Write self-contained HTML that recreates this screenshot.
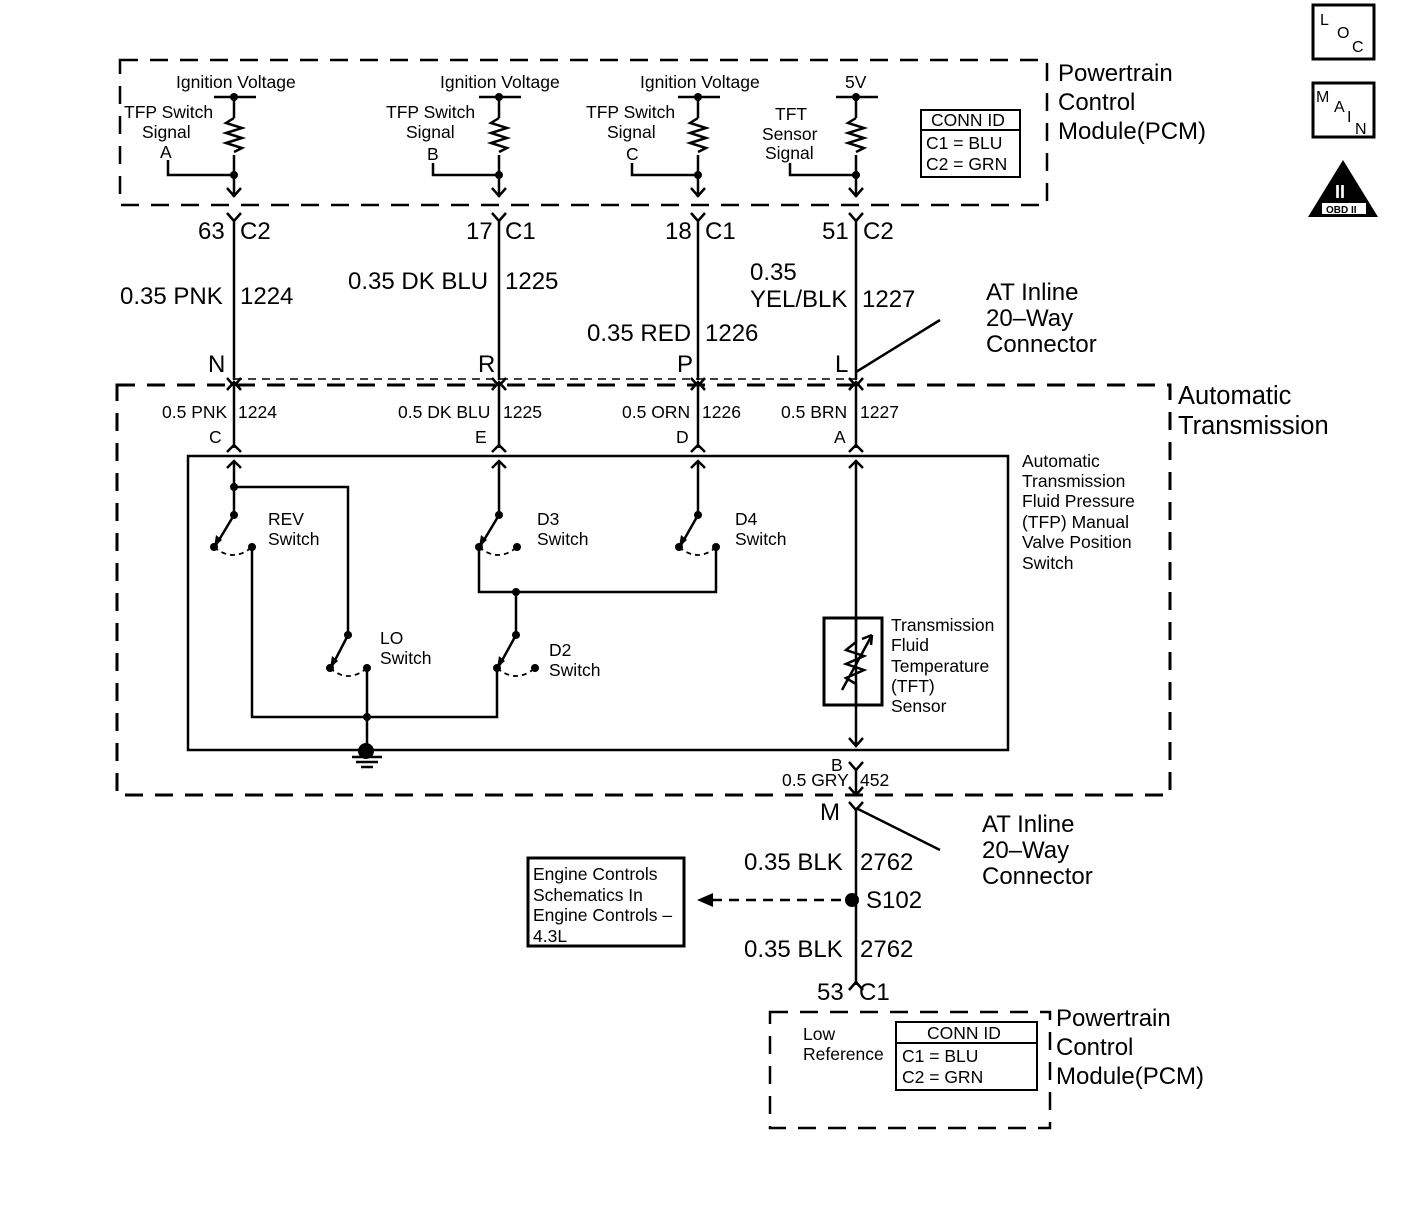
<!DOCTYPE html>
<html><head><meta charset="utf-8"><style>
body{margin:0;background:#fff}
svg{display:block}
text{font-family:"Liberation Sans",Arial,sans-serif;fill:#000}
.s{font-size:17.5px}
.m{font-size:24px}
.l{font-size:25.5px}
</style></head><body>
<svg width="1408" height="1208" viewBox="0 0 1408 1208" xmlns="http://www.w3.org/2000/svg">
<g fill="none" stroke="#000" stroke-width="2.5">
<rect x="120" y="60" width="927" height="145" stroke-dasharray="18,12"/>
<rect x="117" y="385" width="1053" height="410" stroke-width="3" stroke-dasharray="18,12"/>
<line x1="234" y1="379" x2="856" y2="379" stroke-width="1.5" stroke-dasharray="8,6"/>
<rect x="188" y="456" width="820" height="294"/>
<rect x="770" y="1012" width="280" height="116" stroke-dasharray="18,12"/>
<path d="M234 97V118M234 155V197M168 160V175H234M214 97H256"/>
<path d="M499 97V118M499 155V197M433 163V175H499M479 97H521"/>
<path d="M698 97V118M698 155V197M632 163V175H698M678 97H720"/>
<path d="M856 97V118M856 155V197M790 163V175H856M836 97H878"/>
<path d="M234 118l-8 5 16 5-16 5 16 5-16 5 16 5-8 4"/>
<path d="M499 118l-8 5 16 5-16 5 16 5-16 5 16 5-8 4"/>
<path d="M698 118l-8 5 16 5-16 5 16 5-16 5 16 5-8 4"/>
<path d="M856 118l-8 5 16 5-16 5 16 5-16 5 16 5-8 4"/>
<path d="M227 188l7 8 7-8M492 188l7 8 7-8M691 188l7 8 7-8M849 188l7 8 7-8"/>
<path d="M227 213l7 8 7-8M492 213l7 8 7-8M691 213l7 8 7-8M849 213l7 8 7-8"/>
<path d="M234 221V380M499 221V380M698 221V380M856 221V380"/>
<path d="M227 390l7-8 7 8M492 390l7-8 7 8M691 390l7-8 7 8M849 390l7-8 7 8"/>
<path d="M227 378l7 8 7-8M492 378l7 8 7-8M691 378l7 8 7-8M849 378l7 8 7-8"/>
<path d="M234 384V448M499 384V448M698 384V448M856 384V448"/>
<path d="M227 452l7-7 7 7M492 452l7-7 7 7M691 452l7-7 7 7M849 452l7-7 7 7"/>
<path d="M227 468l7-7 7 7M492 468l7-7 7 7M691 468l7-7 7 7M849 468l7-7 7 7"/>
<path d="M856 372L940 320M856 808L940 850"/>
<path d="M234 461V515M234 487H348V635M234 515L216 545M252 547V717H497V668M348 635L332 666M367 668V750M499 461V515L481 545M479 547V592H716V547M698 461V515L681 545M516 592V635L499 666"/>
<path d="M856 461V745M849 738l7 8 7-8"/>
<path d="M214 547Q233 563 252 547M330 668Q348 684 367 668M479 547Q498 563 517 547M679 547Q698 563 716 547M497 668Q516 684 535 668" stroke-dasharray="5,4" stroke-width="1.8"/>
<rect x="824" y="618" width="58" height="87" stroke-width="3"/>
<path d="M856 618V642l-10 8 18 6-18 8 18 6-18 8 10 6V705M842 690L872 635M872 635l-10 4M872 635l-1 10"/>
<path d="M352 757H382M356 762H378M361 767H373"/>
<path d="M849 762l7 8 7-8M856 770V795M849 787l7 8 7-8M849 802l7 8 7-8M856 810V985M849 990l7-8 7 8"/>
<path d="M712 900H852" stroke-dasharray="10,7"/>
<rect x="528" y="858" width="156" height="88" stroke-width="3"/>
<rect x="921" y="110" width="99" height="67" stroke-width="2"/><line x1="921" y1="130" x2="1020" y2="130" stroke-width="2"/>
<rect x="896" y="1022" width="141" height="68" stroke-width="2"/><line x1="896" y1="1043" x2="1037" y2="1043" stroke-width="2"/>
<rect x="1313" y="5" width="61" height="54" stroke-width="3"/>
<rect x="1313" y="83" width="61" height="54" stroke-width="3"/>
</g>
<g fill="#000">
<circle cx="234" cy="97" r="4"/><circle cx="499" cy="97" r="4"/><circle cx="698" cy="97" r="4"/><circle cx="856" cy="97" r="4"/>
<circle cx="234" cy="175" r="4"/><circle cx="499" cy="175" r="4"/><circle cx="698" cy="175" r="4"/><circle cx="856" cy="175" r="4"/>
<circle cx="234" cy="487" r="4"/><circle cx="234" cy="515" r="4"/><circle cx="214" cy="547" r="4"/><circle cx="252" cy="547" r="4"/>
<circle cx="348" cy="635" r="4"/><circle cx="330" cy="668" r="4"/><circle cx="367" cy="668" r="4"/><circle cx="367" cy="717" r="4"/>
<circle cx="499" cy="515" r="4"/><circle cx="479" cy="547" r="4"/><circle cx="517" cy="547" r="4"/>
<circle cx="698" cy="515" r="4"/><circle cx="679" cy="547" r="4"/><circle cx="716" cy="547" r="4"/>
<circle cx="516" cy="592" r="4"/><circle cx="516" cy="635" r="4"/><circle cx="497" cy="668" r="4"/><circle cx="535" cy="668" r="4"/>
<circle cx="366" cy="751" r="8"/><circle cx="852" cy="900" r="7"/>
<path d="M697 900l16-7v14z"/>
<path d="M214 547l2-12 6 5z M330 668l2-12 6 5z M479 547l2-12 6 5z M679 547l2-12 6 5z M497 668l2-12 6 5z"/>
<path d="M1343 160L1378 217H1308z"/>
</g>
<g class="s">
<text x="176" y="88">Ignition Voltage</text><text x="440" y="88">Ignition Voltage</text><text x="640" y="88">Ignition Voltage</text><text x="845" y="88">5V</text>
<text x="124" y="118">TFP Switch</text><text x="142" y="138">Signal</text><text x="160" y="158">A</text>
<text x="386" y="118">TFP Switch</text><text x="406" y="138">Signal</text><text x="427" y="160">B</text>
<text x="586" y="118">TFP Switch</text><text x="607" y="138">Signal</text><text x="626" y="160">C</text>
<text x="775" y="120">TFT</text><text x="762" y="140">Sensor</text><text x="765" y="159">Signal</text>
<text x="931" y="126">CONN ID</text><text x="926" y="149">C1 = BLU</text><text x="926" y="170">C2 = GRN</text>
<text x="162" y="418">0.5 PNK</text><text x="238" y="418">1224</text>
<text x="398" y="418">0.5 DK BLU</text><text x="503" y="418">1225</text>
<text x="622" y="418">0.5 ORN</text><text x="702" y="418">1226</text>
<text x="781" y="418">0.5 BRN</text><text x="860" y="418">1227</text>
<text x="209" y="443">C</text><text x="475" y="443">E</text><text x="676" y="443">D</text><text x="834" y="443">A</text>
<text x="1022" y="467">Automatic</text><text x="1022" y="487">Transmission</text><text x="1022" y="507">Fluid Pressure</text><text x="1022" y="528">(TFP) Manual</text><text x="1022" y="548">Valve Position</text><text x="1022" y="569">Switch</text>
<text x="268" y="525">REV</text><text x="268" y="545">Switch</text>
<text x="537" y="525">D3</text><text x="537" y="545">Switch</text>
<text x="735" y="525">D4</text><text x="735" y="545">Switch</text>
<text x="380" y="644">LO</text><text x="380" y="664">Switch</text>
<text x="549" y="656">D2</text><text x="549" y="676">Switch</text>
<text x="891" y="631">Transmission</text><text x="891" y="651">Fluid</text><text x="891" y="672">Temperature</text><text x="891" y="692">(TFT)</text><text x="891" y="712">Sensor</text>
<text x="831" y="771">B</text><text x="782" y="786">0.5 GRY</text><text x="860" y="786">452</text>
<text x="533" y="880">Engine Controls</text><text x="533" y="901">Schematics In</text><text x="533" y="921">Engine Controls –</text><text x="533" y="942">4.3L</text>
<text x="803" y="1040">Low</text><text x="803" y="1060">Reference</text>
<text x="927" y="1039">CONN ID</text><text x="902" y="1062">C1 = BLU</text><text x="902" y="1083">C2 = GRN</text>
</g>
<g class="m">
<text x="198" y="239">63</text><text x="240" y="239">C2</text>
<text x="466" y="239">17</text><text x="505" y="239">C1</text>
<text x="665" y="239">18</text><text x="705" y="239">C1</text>
<text x="822" y="239">51</text><text x="863" y="239">C2</text>
<text x="120" y="304">0.35 PNK</text><text x="240" y="304">1224</text>
<text x="348" y="289">0.35 DK BLU</text><text x="505" y="289">1225</text>
<text x="587" y="341">0.35 RED</text><text x="705" y="341">1226</text>
<text x="750" y="280">0.35</text><text x="750" y="307">YEL/BLK</text><text x="862" y="307">1227</text>
<text x="208" y="372">N</text><text x="478" y="372">R</text><text x="677" y="372">P</text><text x="835" y="372">L</text>
<text x="986" y="300">AT Inline</text><text x="986" y="326">20–Way</text><text x="986" y="352">Connector</text>
<text x="820" y="820">M</text>
<text x="982" y="832">AT Inline</text><text x="982" y="858">20–Way</text><text x="982" y="884">Connector</text>
<text x="744" y="870">0.35 BLK</text><text x="860" y="870">2762</text>
<text x="866" y="908">S102</text>
<text x="744" y="957">0.35 BLK</text><text x="860" y="957">2762</text>
<text x="817" y="1000">53</text><text x="859" y="1000">C1</text>
<text x="1058" y="81">Powertrain</text><text x="1058" y="110">Control</text><text x="1058" y="139">Module(PCM)</text>
<text x="1056" y="1026">Powertrain</text><text x="1056" y="1055">Control</text><text x="1056" y="1084">Module(PCM)</text>
</g>
<g class="l"><text x="1178" y="404">Automatic</text><text x="1178" y="434">Transmission</text></g>
<g style="font-size:16px">
<text x="1320" y="25">L</text><text x="1337" y="38">O</text><text x="1352" y="52">C</text>
<text x="1316" y="102">M</text><text x="1334" y="112">A</text><text x="1347" y="122">I</text><text x="1355" y="134">N</text>
</g>
<rect x="1322" y="203" width="44" height="11" fill="#fff"/>
<text x="1326" y="213" style="font-size:10px;font-weight:bold">OBD II</text>
<text x="1335" y="198" style="font-size:18px;font-weight:bold;fill:#fff">II</text>
</svg>
</body></html>
